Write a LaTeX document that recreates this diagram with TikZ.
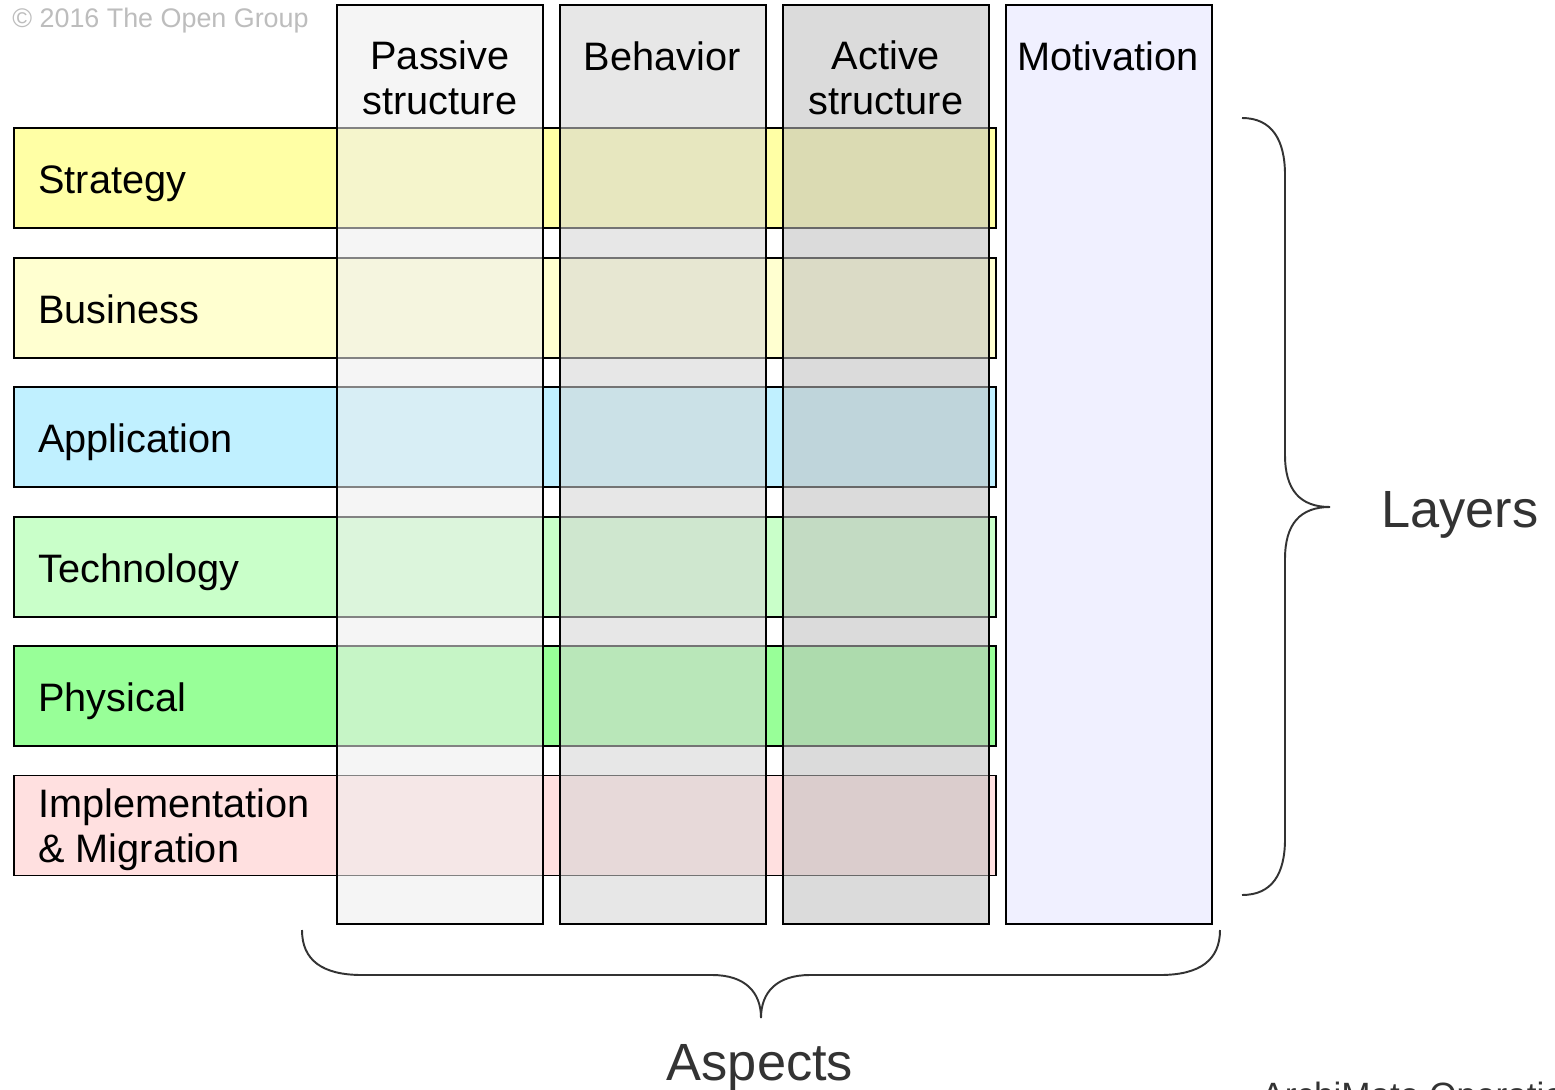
\documentclass[tikz,border=0pt]{standalone}
\usepackage{fontspec}
\setmainfont{Liberation Sans}
\definecolor{cStrat}{HTML}{FFFFA5}
\definecolor{cBus}{HTML}{FFFFD0}
\definecolor{cApp}{HTML}{C0F0FF}
\definecolor{cTech}{HTML}{C9FFC9}
\definecolor{cPhys}{HTML}{98FF98}
\definecolor{cImpl}{HTML}{FFE0E0}
\definecolor{cPass}{HTML}{EDEDED}
\definecolor{cBeh}{HTML}{D5D5D5}
\definecolor{cAct}{HTML}{BFBFBF}
\definecolor{cMot}{HTML}{F0F0FF}
\definecolor{cBrace}{HTML}{333333}
\definecolor{cCopy}{HTML}{BDBDBD}
\begin{document}
\begin{tikzpicture}[x=0.02cm,y=-0.02cm,
  layerbox/.style={draw=black, line width=1.1pt, rectangle, inner sep=0pt,
    minimum width=19.64cm, minimum height=2cm},
  aspectbox/.style={draw=black, line width=1.1pt, rectangle, inner sep=0pt,
    minimum width=4.12cm, minimum height=18.38cm, fill opacity=0.55, draw opacity=1},
  lbl/.style={inner sep=0pt, font=\fontsize{22.6}{25.5}\selectfont, text=black, align=left},
  hdr/.style={inner sep=0pt, font=\fontsize{22.6}{25.5}\selectfont, text=black, align=center},
  bigtxt/.style={inner sep=0pt, font=\fontsize{29.8}{34}\selectfont, text=cBrace},
  bracestyle/.style={draw=cBrace, line width=1.1pt}
]
\clip (0,0) rectangle (1555,1089);
\fill[white] (0,0) rectangle (1555,1089);

% layers
\node[layerbox, fill=cStrat] (strategy) at (505,178) {};
\node[layerbox, fill=cBus] (business) at (505,308) {};
\node[layerbox, fill=cApp] (application) at (505,437) {};
\node[layerbox, fill=cTech] (technology) at (505,567) {};
\node[layerbox, fill=cPhys] (physical) at (505,696) {};
\node[layerbox, fill=cImpl] (implementation) at (505,825.5) {};

% aspects (translucent columns)
\node[aspectbox, fill=cPass] (passive) at (440,464.5) {};
\node[aspectbox, fill=cBeh] (behavior) at (663,464.5) {};
\node[aspectbox, fill=cAct] (active) at (886,464.5) {};
\node[aspectbox, fill=cMot, fill opacity=1] (motivation) at (1109,464.5) {};

% column headers
\node[hdr] (hpassive) at (440,78) {Passive\\structure};
\node[hdr, anchor=base] (hbehavior) at (662,70) {Behavior};
\node[hdr] (hactive) at (886,78) {Active\\structure};
\node[hdr, anchor=base] (hmotivation) at (1108,70) {Motivation};

% layer labels
\node[lbl, anchor=base west] (lstrategy) at (38,193) {Strategy};
\node[lbl, anchor=base west] (lbusiness) at (38,323) {Business};
\node[lbl, anchor=base west] (lapplication) at (38,452) {Application};
\node[lbl, anchor=base west] (ltechnology) at (38,582) {Technology};
\node[lbl, anchor=base west] (lphysical) at (38,711) {Physical};
\node[lbl, anchor=west] (limplementation) at (38,830) {Implementation\\\& Migration};

% copyright
\node[inner sep=0pt, anchor=base west, text=cCopy, font=\fontsize{15.3}{17}\selectfont] (copyright) at (12,27) {© 2016 The Open Group};

% layers brace
\coordinate (lbtop) at (1242,118);
\coordinate (lbbot) at (1242,895);
\coordinate (lbtip) at (1330,507);
\draw[bracestyle] (lbtop) .. controls (1272,118) and (1285,140) .. (1285,175)
  -- (1285,455) .. controls (1285,490) and (1300,507) .. (lbtip)
  .. controls (1300,507) and (1285,524) .. (1285,559)
  -- (1285,839) .. controls (1285,874) and (1272,895) .. (lbbot);
\node[bigtxt, anchor=base west] (layers) at (1381,527) {Layers};

% aspects brace
\coordinate (abl) at (302,930);
\coordinate (abr) at (1220,930);
\coordinate (abtip) at (761,1018);
\draw[bracestyle] (abl) .. controls (302,960) and (322,975) .. (362,975)
  -- (712,975) .. controls (745,975) and (761,992) .. (abtip)
  .. controls (761,992) and (777,975) .. (810,975)
  -- (1160,975) .. controls (1200,975) and (1220,960) .. (abr);
\node[bigtxt, anchor=base] (aspects) at (760,1080) {Aspects};

% clipped caption at bottom right
\node[inner sep=0pt, anchor=base west, text=cBrace, font=\fontsize{20}{24}\selectfont] (caption) at (1261,1107) {ArchiMate Operation};
\end{tikzpicture}
\end{document}
